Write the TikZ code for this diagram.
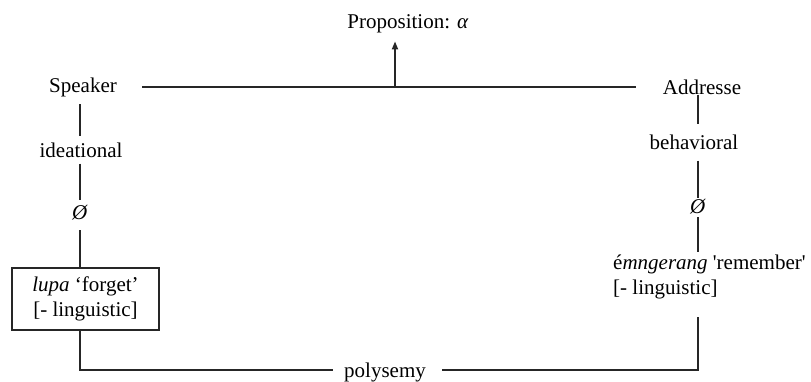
\documentclass[tikz,border=0pt]{standalone}
\usepackage{fontspec}
\setmainfont{Liberation Serif}
\usetikzlibrary{arrows.meta}
\begin{document}
\begin{tikzpicture}[x=1pt,y=-1pt,
  every node/.style={inner sep=0pt, text=black, font=\fontsize{21}{25}\selectfont},
  wire/.style={line width=1.3pt, draw=black!85},
  bar/.style={line width=2.2pt, draw=black!85},
  framebox/.style={draw=black!85, line width=1.5pt, minimum width=147pt, minimum height=62pt, align=center},
  uparrow/.style={line width=1.8pt, draw=black!85, -{Triangle[length=8pt,width=6pt]}}
  ]
\useasboundingbox (0,0) rectangle (811,381);

% top row: the two participants and the proposition between them
\node (prop) at (408,24) {Proposition: \textit{α}};
\node (speaker) at (83,87) {Speaker};
\node (addr) at (702,87) {Addresse};
\coordinate (mid) at (395,87);
\draw[bar] ([xshift=25pt]speaker.east) -- ([xshift=-27pt]addr.west);
\draw[uparrow, shorten >=8pt] (mid) -- (mid |- prop.south);

% column anchors for the two branches
\coordinate (cornerL) at (80,370);
\coordinate (cornerR) at (698,370);

% speaker branch
\node (ideational) at (81,150) {ideational};
\node (nullL) at (80,213) {\textit{Ø}};
\node[framebox] (lupa) at (85.5,299) {\textit{lupa} `forget'\\{[}- linguistic{]}};
\draw[wire, shorten <=7.5pt, shorten >=6pt] (speaker.south -| cornerL) -- (ideational.north -| cornerL);
\draw[wire, shorten <=6pt, shorten >=5.5pt] (ideational.south -| cornerL) -- (nullL.north -| cornerL);
\draw[wire, shorten <=9.5pt] (nullL.south -| cornerL) -- (lupa.north -| cornerL);

% addressee branch
\node (behav) at (694,142) {behavioral};
\node (nullR) at (698,207) {\textit{Ø}};
\node[anchor=north west, align=left] (rem) at (613,255)
  {é\textit{mngerang} \textquotesingle remember\textquotesingle\\{[}- linguistic{]}};
\draw[wire, shorten >=10pt] (addr.south -| cornerR) -- (behav.north -| cornerR);
\draw[wire, shorten <=11pt, shorten >=1pt] (behav.south -| cornerR) -- (nullR.north -| cornerR);
\draw[wire, shorten <=2.5pt, shorten >=3pt] (nullR.south -| cornerR) -- (rem.north -| cornerR);

% bottom link
\node[anchor=base] (poly) at (385,377) {polysemy};
\draw[bar, shorten >=11pt] (lupa.south -| cornerL) -- (cornerL) -- (poly.west |- cornerL);
\draw[bar, shorten <=16pt, shorten >=17pt] (poly.east |- cornerR) -- (cornerR) -- (rem.south -| cornerR);
\end{tikzpicture}
\end{document}
